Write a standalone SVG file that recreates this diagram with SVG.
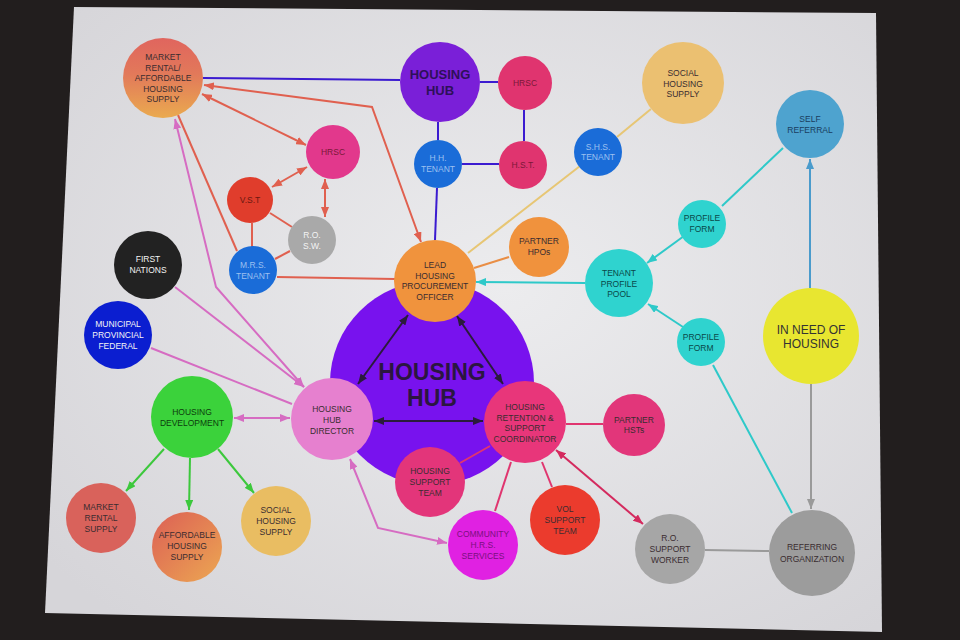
<svg xmlns="http://www.w3.org/2000/svg" width="960" height="640" viewBox="0 0 960 640">
<defs>
<radialGradient id="page" cx="55%" cy="45%" r="70%">
<stop offset="0" stop-color="#ececee"/><stop offset="1" stop-color="#d6d5d9"/>
</radialGradient>
<linearGradient id="gMR" x1="0" y1="0" x2="0" y2="1">
<stop offset="0" stop-color="#e0655e"/><stop offset="0.45" stop-color="#e2795a"/><stop offset="1" stop-color="#eaaa4f"/>
</linearGradient>
<linearGradient id="gAF" x1="0" y1="0" x2="1" y2="1">
<stop offset="0" stop-color="#dc5f55"/><stop offset="1" stop-color="#eca752"/>
</linearGradient>
<marker id="aR" viewBox="0 0 10 8" refX="10" refY="4" markerWidth="10" markerHeight="8" markerUnits="userSpaceOnUse" orient="auto-start-reverse"><path d="M0,0 L10,4 L0,8 z" fill="#e0604f"/></marker>
<marker id="aP" viewBox="0 0 10 8" refX="10" refY="4" markerWidth="10" markerHeight="8" markerUnits="userSpaceOnUse" orient="auto-start-reverse"><path d="M0,0 L10,4 L0,8 z" fill="#d66cc2"/></marker>
<marker id="aK" viewBox="0 0 10 8" refX="10" refY="4" markerWidth="10" markerHeight="8" markerUnits="userSpaceOnUse" orient="auto-start-reverse"><path d="M0,0 L10,4 L0,8 z" fill="#2b1b3b"/></marker>
<marker id="aG" viewBox="0 0 10 8" refX="10" refY="4" markerWidth="10" markerHeight="8" markerUnits="userSpaceOnUse" orient="auto-start-reverse"><path d="M0,0 L10,4 L0,8 z" fill="#3cc83c"/></marker>
<marker id="aT" viewBox="0 0 10 8" refX="10" refY="4" markerWidth="10" markerHeight="8" markerUnits="userSpaceOnUse" orient="auto-start-reverse"><path d="M0,0 L10,4 L0,8 z" fill="#2ec9c9"/></marker>
<marker id="aB" viewBox="0 0 10 8" refX="10" refY="4" markerWidth="10" markerHeight="8" markerUnits="userSpaceOnUse" orient="auto-start-reverse"><path d="M0,0 L10,4 L0,8 z" fill="#4a9bcc"/></marker>
<marker id="aY" viewBox="0 0 10 8" refX="10" refY="4" markerWidth="10" markerHeight="8" markerUnits="userSpaceOnUse" orient="auto-start-reverse"><path d="M0,0 L10,4 L0,8 z" fill="#9a9a9a"/></marker>
<marker id="aM" viewBox="0 0 10 8" refX="10" refY="4" markerWidth="10" markerHeight="8" markerUnits="userSpaceOnUse" orient="auto-start-reverse"><path d="M0,0 L10,4 L0,8 z" fill="#d42a5e"/></marker>
</defs>
<style>
text{font-family:"Liberation Sans",Arial,sans-serif;font-size:8.5px;text-anchor:middle;fill:#3a2c30}
.big{font-size:23px;font-weight:bold;fill:#2b1640}
.hubt{font-size:13px;font-weight:bold;fill:#2e1058}
.need{font-size:12px;fill:#333}
.w{fill:#f4f4f4}
.lb{fill:#9cc0f0}
.dp{fill:#7a1838}
.dg{fill:#0d3d0d}
.dt{fill:#0a4848}
.dm{fill:#7a1080}
.db{fill:#1a3d5e}
.c path,.c line,.c polyline{fill:none;stroke-width:2}
.pu{stroke:#3b1bd0}
.ye{stroke:#e7c674}
.or{stroke:#e98e45}
.te{stroke:#2ec9c9}
.bl{stroke:#4a9bcc}
.gy{stroke:#9a9a9a}
.hr{stroke:#e0356f}
.cr{stroke:#d42a5e}
.bk{stroke:#2b1b3b}
.pk{stroke:#d66cc2}
.gr{stroke:#3cc83c}
.rd{stroke:#e0604f}
</style>
<rect x="0" y="0" width="960" height="640" fill="#221e1e"/>
<polygon points="74,7 876,13 882,632 45,613" fill="url(#page)"/>

<g id="n-housing-hub-main"><circle cx="432" cy="383" r="102" fill="#7812ee"/><text class="big" x="432" y="380">HOUSING</text><text class="big" x="432" y="406">HUB</text></g>

<g id="connectors" class="c">
<path class="pu" d="M203,78 L400,80"/>
<path class="pu" d="M480,82 L498,82"/>
<path class="pu" d="M524,110 L524,141"/>
<path class="pu" d="M438,122 L438,140"/>
<path class="pu" d="M462,164 L499,164"/>
<path class="pu" d="M437,188 L435,240"/>
<path class="ye" d="M651,109 L617,137"/>
<path class="ye" d="M580,166 L468,253"/>
<path class="or" d="M509,257 L474,268"/>
<path class="te" d="M585,283 L476,282" marker-end="url(#aT)"/>
<path class="te" d="M684,236 L647,263" marker-end="url(#aT)"/>
<path class="te" d="M783,148 L722,206"/>
<path class="te" d="M683,327 L648,304" marker-end="url(#aT)"/>
<path class="te" d="M792,513 L713,365"/>
<path class="bl" d="M810,288 L810,159" marker-end="url(#aB)"/>
<path class="gy" d="M811,384 L811,509" marker-end="url(#aY)"/>
<path class="gy" d="M705,550 L769,551"/>
<path class="hr" d="M566,424 L603,424"/>
<path class="hr" d="M490,446 L460,463"/>
<path class="hr" d="M511,462 L495,511"/>
<path class="hr" d="M542,462 L552,487"/>
<path class="cr" d="M556,450 L643,524" marker-start="url(#aM)" marker-end="url(#aM)"/>
<path class="bk" d="M408,315 L358,384" marker-start="url(#aK)" marker-end="url(#aK)"/>
<path class="bk" d="M457,316 L503,384" marker-start="url(#aK)" marker-end="url(#aK)"/>
<path class="bk" d="M374,421 L483,421" marker-start="url(#aK)" marker-end="url(#aK)"/>
<path class="pk" d="M234,418 L290,418" marker-start="url(#aP)" marker-end="url(#aP)"/>
<path class="gr" d="M164,449 L126,491" marker-end="url(#aG)"/>
<path class="gr" d="M190,458 L189,510" marker-end="url(#aG)"/>
<path class="gr" d="M218,449 L254,493" marker-end="url(#aG)"/>
<path class="pk" d="M151,348 L292,404"/>
<path class="pk" d="M175,287 L304,387" marker-end="url(#aP)"/>
<path class="pk" d="M175,119 L216,287 L304,387" marker-start="url(#aP)" marker-end="url(#aP)"/>
<path class="pk" d="M350,459 L378,528 L447,543" marker-start="url(#aP)" marker-end="url(#aP)"/>
<path class="rd" d="M202,94 L306,145" marker-start="url(#aR)" marker-end="url(#aR)"/>
<path class="rd" d="M204,85 L372,107 L421,242" marker-start="url(#aR)" marker-end="url(#aR)"/>
<path class="rd" d="M178,115 L237,251"/>
<path class="rd" d="M307,167 L272,187" marker-start="url(#aR)" marker-end="url(#aR)"/>
<path class="rd" d="M325,179 L325,217" marker-start="url(#aR)" marker-end="url(#aR)"/>
<path class="rd" d="M270,213 L292,227"/>
<path class="rd" d="M252,223 L252,247"/>
<path class="rd" d="M290,251 L275,259"/>
<path class="rd" d="M277,277 L395,279"/>
</g>

<g id="n-market-affordable"><circle cx="163" cy="78" r="40" fill="url(#gMR)"/><text x="163" y="60">MARKET</text><text x="163" y="70.5">RENTAL/</text><text x="163" y="81">AFFORDABLE</text><text x="163" y="91.5">HOUSING</text><text x="163" y="102">SUPPLY</text></g>
<g id="n-housing-hub-top"><circle cx="440" cy="82" r="40" fill="#7a1fd8"/><text class="hubt" x="440" y="79">HOUSING</text><text class="hubt" x="440" y="95">HUB</text></g>
<g id="n-hrsc-top"><circle cx="525" cy="83" r="27" fill="#e0346f"/><text class="dp" x="525" y="86">HRSC</text></g>
<g id="n-hh-tenant"><circle cx="438" cy="164" r="24" fill="#1a6cd8"/><text class="lb" x="438" y="161">H.H.</text><text class="lb" x="438" y="171.5">TENANT</text></g>
<g id="n-hst"><circle cx="523" cy="165" r="24" fill="#e0346f"/><text class="dp" x="523" y="168">H.S.T.</text></g>
<g id="n-social-top"><circle cx="683" cy="83" r="41" fill="#ebc071"/><text x="683" y="76">SOCIAL</text><text x="683" y="86.5">HOUSING</text><text x="683" y="97">SUPPLY</text></g>
<g id="n-self-referral"><circle cx="810" cy="124" r="34" fill="#4ea3cf"/><text class="db" x="810" y="122">SELF</text><text class="db" x="810" y="132.5">REFERRAL</text></g>
<g id="n-shs-tenant"><circle cx="598" cy="152" r="24" fill="#1a6cd8"/><text class="lb" x="598" y="150">S.H.S.</text><text class="lb" x="598" y="160">TENANT</text></g>
<g id="n-profile-form-1"><circle cx="702" cy="224" r="24" fill="#2fd3cf"/><text class="dt" x="702" y="221">PROFILE</text><text class="dt" x="702" y="232">FORM</text></g>
<g id="n-partner-hpos"><circle cx="539" cy="247" r="30" fill="#f0923d"/><text x="539" y="244">PARTNER</text><text x="539" y="255">HPOs</text></g>
<g id="n-lead"><circle cx="435" cy="281" r="41" fill="#f0933d"/><text x="435" y="268">LEAD</text><text x="435" y="278.5">HOUSING</text><text x="435" y="289">PROCUREMENT</text><text x="435" y="300">OFFICER</text></g>
<g id="n-tenant-pool"><circle cx="619" cy="283" r="34" fill="#2fd3cf"/><text class="dt" x="619" y="276">TENANT</text><text class="dt" x="619" y="286.5">PROFILE</text><text class="dt" x="619" y="297">POOL</text></g>
<g id="n-in-need"><circle cx="811" cy="336" r="48" fill="#e8e630"/><text class="need" x="811" y="334">IN NEED OF</text><text class="need" x="811" y="348">HOUSING</text></g>
<g id="n-profile-form-2"><circle cx="701" cy="342" r="24" fill="#2fd3cf"/><text class="dt" x="701" y="340">PROFILE</text><text class="dt" x="701" y="351">FORM</text></g>
<g id="n-hrsc-left"><circle cx="333" cy="152" r="27" fill="#e2388c"/><text class="dp" x="333" y="155">HRSC</text></g>
<g id="n-vst"><circle cx="250" cy="200" r="23" fill="#e03d2c"/><text fill="#6a1810" style="fill:#6a1810" x="250" y="203">V.S.T</text></g>
<g id="n-ro-sw"><circle cx="312" cy="240" r="24" fill="#a9a9a9"/><text class="w" x="312" y="238">R.O.</text><text class="w" x="312" y="249">S.W.</text></g>
<g id="n-mrs-tenant"><circle cx="253" cy="270" r="24" fill="#1a6cd8"/><text class="lb" x="253" y="268">M.R.S.</text><text class="lb" x="253" y="278.5">TENANT</text></g>
<g id="n-first-nations"><circle cx="148" cy="265" r="34" fill="#222"/><text class="w" x="148" y="262">FIRST</text><text class="w" x="148" y="273">NATIONS</text></g>
<g id="n-municipal"><circle cx="118" cy="335" r="34" fill="#0b1ed0"/><text class="w" x="118" y="327">MUNICIPAL</text><text class="w" x="118" y="338">PROVINCIAL</text><text class="w" x="118" y="349">FEDERAL</text></g>
<g id="n-housing-dev"><circle cx="192" cy="417" r="41" fill="#3bd23b"/><text class="dg" x="192" y="415">HOUSING</text><text class="dg" x="192" y="425.5">DEVELOPMENT</text></g>
<g id="n-director"><circle cx="332" cy="419" r="41" fill="#e680cf"/><text x="332" y="412">HOUSING</text><text x="332" y="423">HUB</text><text x="332" y="433.5">DIRECTOR</text></g>
<g id="n-hrc"><circle cx="525" cy="422" r="41" fill="#e8367a"/><text x="525" y="410">HOUSING</text><text x="525" y="420.5">RETENTION &amp;</text><text x="525" y="431">SUPPORT</text><text x="525" y="441.5">COORDINATOR</text></g>
<g id="n-partner-hsts"><circle cx="634" cy="425" r="31" fill="#e2367a"/><text x="634" y="423">PARTNER</text><text x="634" y="433">HSTs</text></g>
<g id="n-support-team"><circle cx="430" cy="482" r="35" fill="#e3357a"/><text x="430" y="474">HOUSING</text><text x="430" y="485">SUPPORT</text><text x="430" y="496">TEAM</text></g>
<g id="n-community"><circle cx="483" cy="545" r="35" fill="#e021e2"/><text class="dm" x="483" y="537">COMMUNITY</text><text class="dm" x="483" y="548">H.R.S.</text><text class="dm" x="483" y="559">SERVICES</text></g>
<g id="n-vol"><circle cx="565" cy="520" r="35" fill="#eb3b2d"/><text x="565" y="512">VOL</text><text x="565" y="523">SUPPORT</text><text x="565" y="534">TEAM</text></g>
<g id="n-ro-worker"><circle cx="670" cy="549" r="35" fill="#a6a6a6"/><text x="670" y="541">R.O.</text><text x="670" y="552">SUPPORT</text><text x="670" y="563">WORKER</text></g>
<g id="n-referring"><circle cx="812" cy="553" r="43" fill="#9c9c9c"/><text x="812" y="550">REFERRING</text><text x="812" y="561.5">ORGANIZATION</text></g>
<g id="n-market-supply"><circle cx="101" cy="518" r="35" fill="#d9625b"/><text x="101" y="510">MARKET</text><text x="101" y="521">RENTAL</text><text x="101" y="532">SUPPLY</text></g>
<g id="n-affordable-supply"><circle cx="187" cy="547" r="35" fill="url(#gAF)"/><text x="187" y="538">AFFORDABLE</text><text x="187" y="549">HOUSING</text><text x="187" y="560">SUPPLY</text></g>
<g id="n-social-bottom"><circle cx="276" cy="521" r="35" fill="#e9bd62"/><text x="276" y="513">SOCIAL</text><text x="276" y="524">HOUSING</text><text x="276" y="535">SUPPLY</text></g>
</svg>
